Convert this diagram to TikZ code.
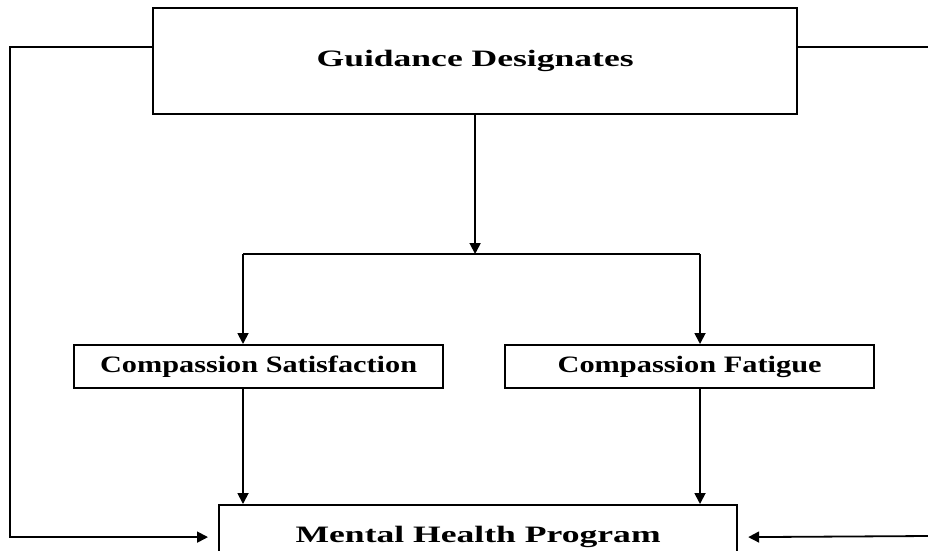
\documentclass[tikz,border=0pt]{standalone}
\usepackage{fontspec}
\usepackage{graphicx}
\setmainfont{Liberation Serif}
\usetikzlibrary{arrows.meta,calc}
\newcommand{\wtxt}[2]{\resizebox{#1}{\height}{\bfseries #2}}
\begin{document}
\begin{tikzpicture}[x=1pt,y=-1pt,
  box/.style={draw,line width=2.2pt,rectangle,inner sep=0pt,anchor=north west,
    font=\fontsize{23.5}{28}\selectfont,align=center},
  conn/.style={line width=1.8pt},
  arr/.style={conn,-{Triangle[length=11pt,width=11pt]}}]
\useasboundingbox (0,0) rectangle (928,550);
\fill[white] (0,0) rectangle (928,550);
% boxes
\node[box,minimum width=644pt,minimum height=106pt] (g) at (152,7)
  {\raisebox{6.5pt}{\wtxt{317pt}{Guidance Designates}}};
\node[box,minimum width=369pt,minimum height=43pt] (cs) at (73,344)
  {\raisebox{-2pt}{\wtxt{317pt}{Compassion Satisfaction}}};
\node[box,minimum width=369pt,minimum height=43pt] (cf) at (504,344)
  {\raisebox{-2pt}{\wtxt{264pt}{Compassion Fatigue}}};
\node[box,minimum width=518pt,minimum height=64pt] (m) at (218,504)
  {\raisebox{4.5pt}{\wtxt{365pt}{Mental Health Program}}};
% junction coordinates
\coordinate (j) at (g.south |- 0,254);
\coordinate (jl) at (243,254);
\coordinate (jr) at (700,254);
\coordinate (lc) at (10,47);
\coordinate (rt) at (928,47);
\coordinate (rb) at (928,536);
% connectors
\draw[arr] (g.south) -- (j);
\draw[conn] (jl) -- (jr);
\draw[arr] (jl) -- (jl |- cs.north);
\draw[arr] (jr) -- (jr |- cf.north);
\draw[arr] (jl |- cs.south) -- (jl |- m.north);
\draw[arr] (jr |- cf.south) -- (jr |- m.north);
\draw[arr] ([yshift=-40pt]g.north west) -- (lc) |- ([xshift=-10pt]m.west);
\draw[conn] ([yshift=-40pt]g.north east) -- (rt);
\draw[arr] (rb) -- ([xshift=10pt]m.east);
\end{tikzpicture}
\end{document}
